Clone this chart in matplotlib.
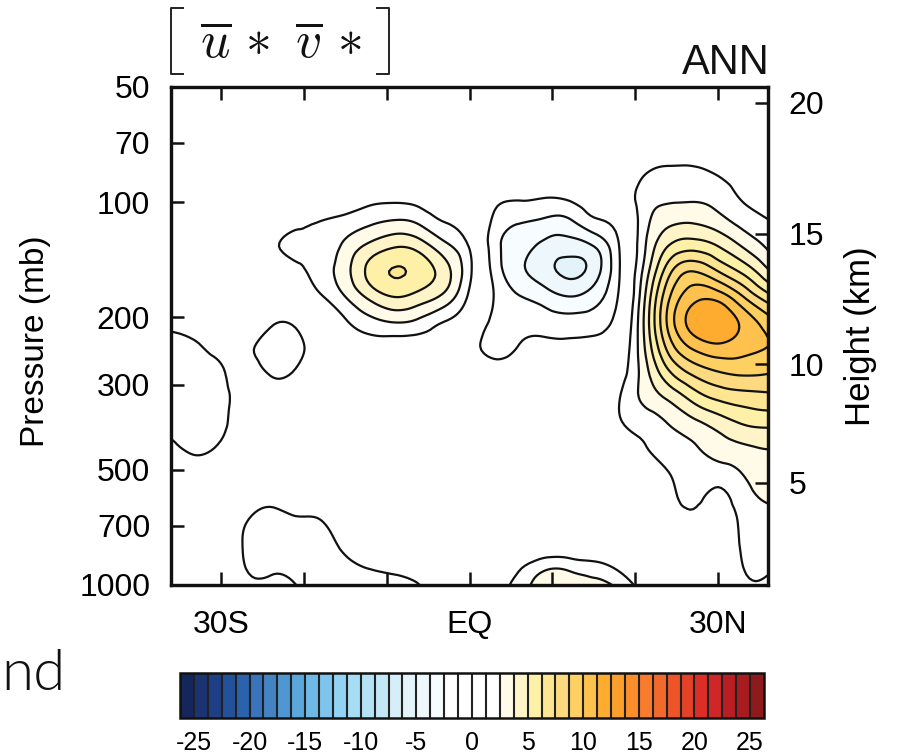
import matplotlib
matplotlib.use("Agg")
import matplotlib.pyplot as plt
import matplotlib.tri as mtri
from matplotlib.lines import Line2D
import numpy as np

LATS = [-36, -33, -30, -27, -24, -21, -18, -15, -12, -9, -6, -3, 0,
        3, 6, 9, 12, 15, 18, 21, 24, 27, 30, 33, 36]
PRESSURES = [45.4, 52.8, 61.4, 71.4, 82.9, 96.4, 112.1, 130.4, 151.6, 176.3, 204.9,
             238.2, 277, 322, 374.4, 435.3, 506, 588, 684, 795, 925, 1075]
UV = [
 [0]*25,
 [0]*19 + [0, .05, .1, .1, .1, .05],
 [0]*19 + [.15, .3, .3, .2, .15, .1],
 [0]*18 + [.05, .35, .7, .7, .5, .3, .2],
 [0,0,0,0,0,0,0,0,.1,.2,.1,0,0,-.1,-.2,-.3,-.3,-.2,.2,1.1,1.4,1.4,1.1,.7,.4],
 [0,0,0,0,.1,.1,.3,.5,.8,.9,.7,.3,.1,-.8,-1.0,-1.15,-1.0,-.5,.2,1.75,2.2,2.25,1.9,1.1,.85],
 [0,0,.1,.2,.5,.9,1.25,1.6,2.2,2.6,2.2,1.2,.4,-1.5,-2.4,-2.7,-2.7,-1.5,-.7,1.9,3.4,3.6,3.0,2.0,1.3],
 [0,0,.1,.4,1.0,1.5,1.6,2.8,4.1,4.9,4.45,2.9,1.15,-1.95,-3.2,-4.1,-4.4,-3.75,-1.3,2.2,5.05,5.75,5.0,3.65,2.3],
 [0,0,.1,.2,.4,.9,1.8,3.3,5.4,6.33,5.8,4.3,1.55,-1.7,-3.45,-4.5,-5.25,-4.4,-1.4,2.75,7.05,8.75,7.5,5.95,3.95],
 [.3,.1,.1,.1,.3,.4,1.1,2.5,4.1,5.05,4.5,3.4,1.0,-1.3,-2.45,-3.1,-3.75,-3.1,-1.15,3.4,8.5,10.8,10.7,8.75,6.7],
 [1.0,.6,.3,.4,1.05,1.0,.3,1.1,2.1,2.6,2.2,1.25,.2,-1.6,-1.7,-1.85,-2.05,-1.9,-.6,3.75,9.1,11.8,12.3,10.9,9.3],
 [1.5,1.4,.8,1.0,1.7,1.65,.5,.4,.7,.6,.6,.4,-.6,-1.7,-1.2,-.9,-.9,-.75,.1,3.55,8.0,10.3,11.0,10.5,10.0],
 [1.7,1.8,1.4,.8,1.4,1.15,.2,.1,.2,.2,.2,.1,-.2,-.7,-.5,-.3,-.2,-.1,.6,3.1,6.1,7.9,8.75,9.05,8.9],
 [1.8,1.9,1.6,.7,.6,.5,.1,0,0,0,0,0,0,-.2,-.1,0,0,.1,1.15,2.8,4.05,5.55,6.6,7.0,7.2],
 [1.6,1.7,1.5,.6,.3,.1,0,0,0,0,0,0,0,0,0,0,0,0,1.1,1.85,2.6,3.5,4.4,5.2,5.45],
 [1.05,1.45,1.1,.3,.1,0,0,0,0,0,0,0,0,0,0,0,0,0,.4,1.15,1.9,2.4,3.1,3.6,3.85],
 [.5,.8,.5,.2,.1,.1,0,0,0,0,0,0,0,0,0,0,0,0,.2,.6,1.25,1.95,1.95,2.6,3.2],
 [.2,.3,.2,.5,.9,.7,.6,.3,.1,0,0,0,0,0,0,0,0,0,.1,.4,.9,1.5,1.0,1.95,2.65],
 [.1,.2,.3,1.2,1.6,1.4,1.3,.7,.4,.2,.1,0,0,0,0,0,0,.05,.1,.3,.6,1.0,.7,1.5,2.2],
 [.1,.2,.5,1.35,1.7,1.7,1.6,1.1,.8,.6,.3,.1,.05,.1,.2,.3,.3,.3,.2,.2,.4,.6,.5,1.4,1.75],
 [.1,.2,.4,1.2,1.3,1.4,1.6,1.5,1.3,1.2,.95,.4,.1,.6,1.3,2.6,2.6,2.1,1.3,.4,.3,.4,.4,1.2,1.3],
 [.1,.2,.4,.8,1.05,1.1,1.6,1.6,1.5,1.5,1.5,.6,.2,.9,1.7,3.4,3.4,3.4,3.0,.6,.2,.3,.3,.8,.9],
]
LEVEL_STEP = 1.25
BOX_COLORS = ['#14265c', '#1b3370', '#1e3f86', '#23529b', '#2a62ab', '#3a74bd', '#4383c4',
              '#4f97d2', '#5ba6da', '#6fb9e6', '#7fc4ec', '#92d2f3', '#a6dcf4', '#b5e3f6',
              '#c2e8f6', '#d6eef8', '#e3f3fa', '#eef8fc', '#f7fcfe', '#ffffff', '#ffffff',
              '#ffffff', '#ffffff', '#fffbe8', '#fff4c8', '#fff0a8', '#fee592', '#fdda7f',
              '#fed062', '#fec14d', '#fdac2f', '#fd9f2b', '#fc8f2b', '#f97b2c', '#f26a2b',
              '#ed5427', '#e44126', '#dc2d26', '#cf2727', '#b81e23', '#a81c20', '#8d1a1c']
CB_TICKS = [-25, -20, -15, -10, -5, 0, 5, 10, 15, 20, 25]
P_TICKS = [50, 70, 100, 200, 300, 500, 700, 1000]
LAT_TICKS = [-30, -20, -10, 0, 10, 20, 30]
LAT_LABELS = ['30S', '', '', 'EQ', '', '', '30N']
HEIGHT_P = [55, 121, 265, 540]
HEIGHT_KM = [20, 15, 10, 5]

W, H = 897, 756
plt.rcParams['font.family'] = ['Liberation Sans', 'DejaVu Sans']
plt.rcParams['mathtext.fontset'] = 'cm'
fig = plt.figure(figsize=(W / 100, H / 100), dpi=100)

def box(x0, y0, x1, y1):
    return [x0 / W, 1 - y1 / H, (x1 - x0) / W, (y1 - y0) / H]

ax = fig.add_axes(box(171, 87, 768, 585))
lon, lp = np.meshgrid(LATS, np.log10(PRESSURES))
z = np.array(UV, dtype=float)
tri = mtri.Triangulation(lon.ravel(), lp.ravel())
refined, zf = mtri.UniformTriRefiner(tri).refine_field(z.ravel(), subdiv=3)
fine = mtri.Triangulation(refined.x, 10 ** refined.y, refined.triangles)

levels = LEVEL_STEP * np.arange(-21, 22)
cf = ax.tricontourf(fine, zf, levels=levels, colors=BOX_COLORS)
line_levels = levels[levels != 0]
ax.tricontour(fine, zf, levels=line_levels, colors='#111111', linewidths=1.6,
              linestyles='solid')

ax.set_yscale('log')
ax.set_xlim(-36, 36)
ax.set_ylim(1000, 50)
ax.set_yticks(P_TICKS)
ax.set_yticklabels([str(p) for p in P_TICKS])
ax.minorticks_off()
ax.set_xticks(LAT_TICKS)
ax.set_xticklabels(LAT_LABELS)
ax.tick_params(axis='x', direction='in', length=9.5, width=1.8, top=True, labelsize=23, pad=18, color='#111111')
ax.tick_params(axis='y', direction='in', length=9.5, width=1.8, labelsize=23, pad=15, color='#111111')
for s in ax.spines.values():
    s.set_linewidth(2.3)
    s.set_color('#111111')
ax.set_ylabel('Pressure (mb)', fontsize=24, va='center')
ax.yaxis.set_label_coords((36 - 171) / (768 - 171), 0.49)

ax2 = ax.twinx()
ax2.set_yscale('log')
ax2.set_ylim(1000, 50)
ax2.set_yticks(HEIGHT_P)
ax2.set_yticklabels([str(k) for k in HEIGHT_KM])
ax2.minorticks_off()
ax2.tick_params(axis='y', direction='in', length=9.5, width=1.8, labelsize=23, pad=15, color='#111111')
ax2.set_ylabel('Height (km)', fontsize=25, va='center')
ax2.yaxis.set_label_coords((860 - 171) / (768 - 171), 0.50)
for s in ax2.spines.values():
    s.set_linewidth(2.3)
    s.set_color('#111111')

fig.text(770 / W, 1 - 74 / H, 'ANN', ha='right', va='baseline', fontsize=30, color='#111111')
fig.text(281 / W, 1 - 58 / H, r'$\overline{u}\,*\ \overline{v}\,*$', ha='center', va='baseline',
         fontsize=37, color='#111111')
for xs in ([183, 171, 171, 183], [377, 389, 389, 377]):
    fig.add_artist(Line2D(np.array(xs) / W, 1 - np.array([8, 8, 74, 74]) / H, color='#222222', lw=1.4))

fig.text(65 / W, 1 - 690 / H, 'nd', ha='right', va='baseline', fontsize=42,
         family='Lato', fontweight=300, color='#111111')

cax = fig.add_axes(box(180, 673, 764, 718))
cb = fig.colorbar(cf, cax=cax, orientation='horizontal', drawedges=True, ticks=CB_TICKS)
cb.dividers.set_color('#222222')
cb.dividers.set_linewidth(1.5)
cb.outline.set_edgecolor('#111111')
cb.outline.set_linewidth(1.8)
cb.ax.tick_params(length=0, labelsize=18, pad=9)
cb.ax.set_xticklabels([str(t) for t in CB_TICKS])

fig.savefig('out.png', dpi=100)
